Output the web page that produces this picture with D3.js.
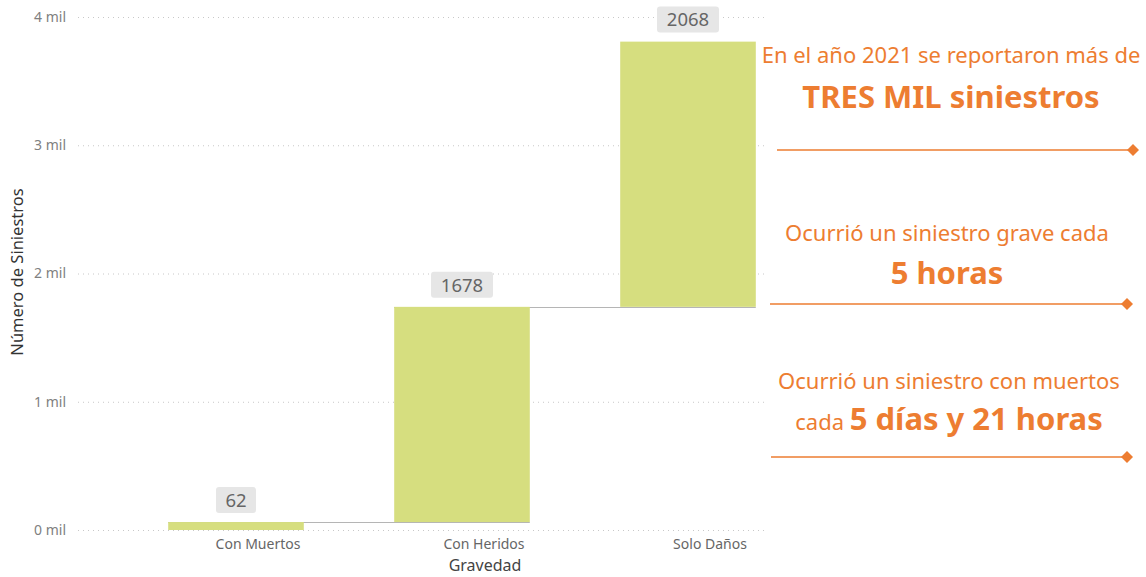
<!DOCTYPE html>
<html>
<head>
<meta charset="utf-8">
<script src="https://cdn.jsdelivr.net/npm/d3@7"></script>
<style>
  body { margin: 0; background: #fff; }
  svg { display: block; font-family: "Noto Sans", "Open Sans", sans-serif; }
</style>
</head>
<body>
<div id="chart"></div>
<script>
// data
var categories = ["Con Muertos", "Con Heridos", "Solo Daños"];
var values = [62, 1678, 2068];
var yTicks = [0, 1000, 2000, 3000, 4000];
var notes = [
  { top: "En el año 2021 se reportaron más de", pre: "", big: "TRES MIL siniestros" },
  { top: "Ocurrió un siniestro grave cada", pre: "", big: "5 horas" },
  { top: "Ocurrió un siniestro con muertos", pre: "cada ", big: "5 días y 21 horas" }
];

var width = 1146, height = 577;
var orange = "#ED7D31";

var svg = d3.select("#chart").append("svg")
    .attr("width", width)
    .attr("height", height);

// scales
var x = d3.scaleBand()
    .domain(categories)
    .range([123, 801])
    .paddingInner(0.4)
    .paddingOuter(0.2);

var y = d3.scaleLinear()
    .domain([0, 4000])
    .range([530, 17]);

// waterfall steps: start and end of every bar
var steps = [];
var total = 0;
values.forEach(function(v, i) {
  steps.push({ cat: categories[i], start: total, end: total + v, value: v });
  total += v;
});

// gridlines
svg.append("g").selectAll("line")
    .data(yTicks)
  .enter().append("line")
    .attr("x1", 78).attr("x2", 765)
    .attr("y1", function(d) { return y(d) + 0.5; })
    .attr("y2", function(d) { return y(d) + 0.5; })
    .attr("stroke", "#c8c8c8")
    .attr("stroke-width", 1)
    .attr("stroke-dasharray", "1,4");

// y axis labels
var yAxis = d3.axisLeft(y)
    .tickValues(yTicks)
    .tickSize(0)
    .tickPadding(0)
    .tickFormat(function(d) { return (d / 1000) + " mil"; });

svg.append("g")
    .attr("transform", "translate(66,0)")
    .call(yAxis)
    .call(function(g) { g.select(".domain").remove(); })
    .selectAll("text")
    .attr("font-size", "14px")
    .attr("font-family", "Noto Sans, sans-serif")
    .attr("fill", "#808080");

// y axis title
svg.append("text")
    .attr("transform", "translate(23,272) rotate(-90)")
    .attr("text-anchor", "middle")
    .attr("font-size", "16.5px")
    .attr("fill", "#333")
    .text("Número de Siniestros");

// x axis labels (sit a bit right of the bar centres, like the original)
var xAxis = d3.axisBottom(x).tickSize(0).tickPadding(0);
svg.append("g")
    .attr("transform", "translate(22,539)")
    .call(xAxis)
    .call(function(g) { g.select(".domain").remove(); })
    .selectAll("text")
    .attr("font-size", "14px")
    .attr("font-family", "Noto Sans, sans-serif")
    .attr("fill", "#666");

svg.append("text")
    .attr("x", x("Con Heridos") + x.bandwidth() / 2 + 23)
    .attr("y", 571)
    .attr("text-anchor", "middle")
    .attr("font-size", "16px")
    .attr("fill", "#444")
    .text("Gravedad");

// connector lines between bars
var connectors = steps.slice(0, -1).map(function(d, i) {
  return { x1: x(d.cat), x2: x(steps[i + 1].cat) + x.bandwidth(), level: d.end };
});
svg.append("g").selectAll("line")
    .data(connectors)
  .enter().append("line")
    .attr("x1", function(d) { return d.x1; })
    .attr("x2", function(d) { return d.x2; })
    .attr("y1", function(d) { return Math.round(y(d.level)) + 0.5; })
    .attr("y2", function(d) { return Math.round(y(d.level)) + 0.5; })
    .attr("stroke", "#b5b5b5")
    .attr("stroke-width", 1);

// bars
svg.append("g").selectAll("rect")
    .data(steps)
  .enter().append("rect")
    .attr("x", function(d) { return x(d.cat); })
    .attr("width", x.bandwidth())
    .attr("y", function(d) { return y(d.end); })
    .attr("height", function(d) { return y(d.start) - y(d.end); })
    .attr("fill", "#D6DE7F");

// value labels with grey boxes
var labels = svg.append("g").selectAll("g")
    .data(steps)
  .enter().append("g")
    .attr("transform", function(d) {
      return "translate(" + (x(d.cat) + x.bandwidth() / 2) + "," + (y(d.end) - 22) + ")";
    });

labels.append("rect")
    .attr("x", function(d) { return -(String(d.value).length * 11 + 18) / 2; })
    .attr("y", -13)
    .attr("width", function(d) { return String(d.value).length * 11 + 18; })
    .attr("height", 26)
    .attr("rx", 3)
    .attr("fill", "#e6e6e6");

labels.append("text")
    .attr("text-anchor", "middle")
    .attr("dy", "0.36em")
    .attr("font-size", "18.5px")
    .attr("fill", "#666")
    .text(function(d) { return d.value; });

// annotations on the right
var noteTop = [55, 233, 381];
var noteBig = [97, 273, 419];
var noteLine = [150, 304, 457];
var noteX = [951, 947, 949];
var lineX1 = [777, 770, 771];
var lineX2 = [1133, 1127, 1127];

notes.forEach(function(n, i) {
  svg.append("text")
      .attr("x", noteX[i]).attr("y", noteTop[i] + 8)
      .attr("text-anchor", "middle")
      .attr("font-size", "22px")
      .attr("fill", orange)
      .text(n.top);

  var t = svg.append("text")
      .attr("x", noteX[i]).attr("y", noteBig[i] + 11)
      .attr("text-anchor", "middle")
      .attr("fill", orange);
  if (n.pre) {
    t.append("tspan").attr("font-size", "22px").text(n.pre);
  }
  t.append("tspan")
      .attr("font-size", "31px")
      .attr("font-weight", "bold")
      .text(n.big);

  svg.append("line")
      .attr("x1", lineX1[i]).attr("x2", lineX2[i])
      .attr("y1", noteLine[i]).attr("y2", noteLine[i])
      .attr("stroke", orange)
      .attr("stroke-width", 1.5);

  svg.append("path")
      .attr("d", d3.symbol().type(d3.symbolSquare).size(72))
      .attr("transform", "translate(" + lineX2[i] + "," + noteLine[i] + ") rotate(45)")
      .attr("fill", orange);
});
</script>
</body>
</html>
